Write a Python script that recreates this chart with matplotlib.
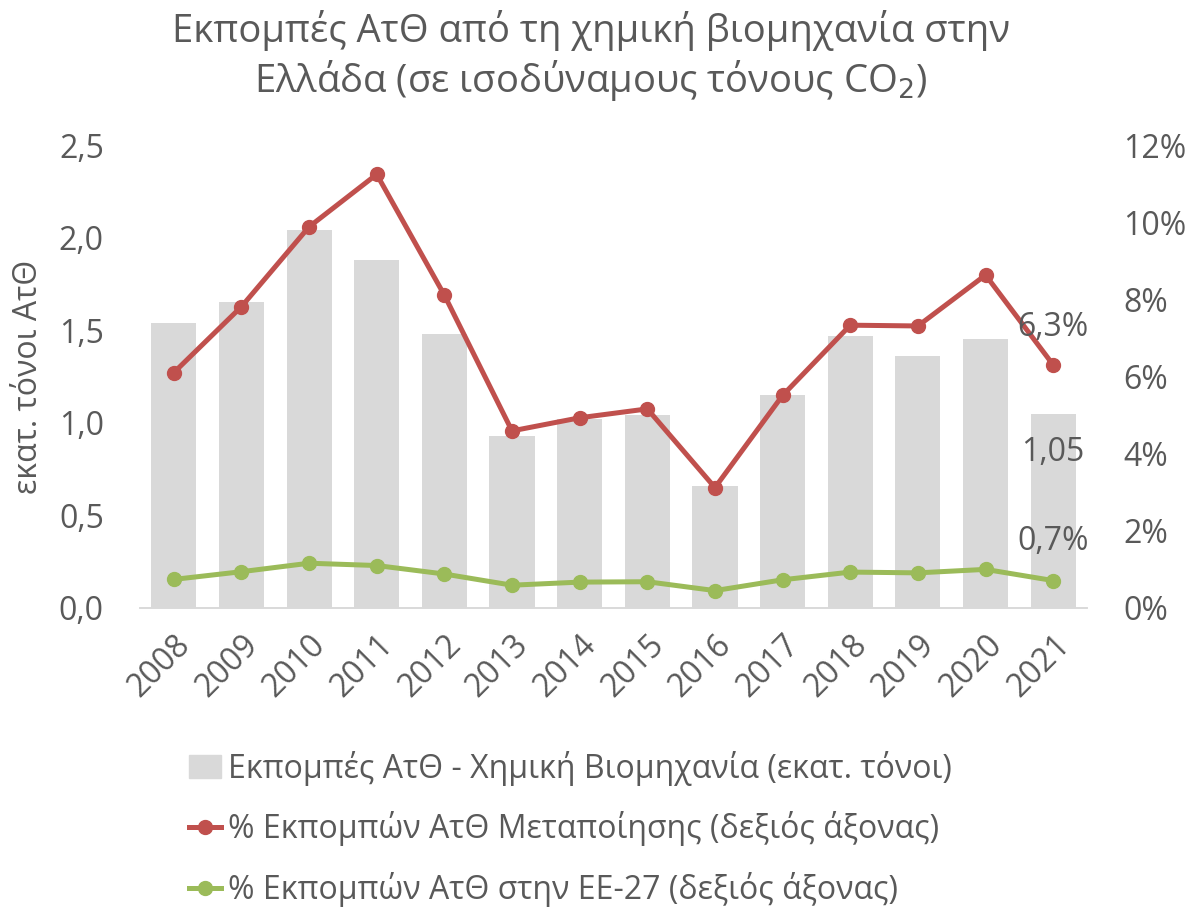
import matplotlib
matplotlib.use("Agg")
import matplotlib.pyplot as plt
from matplotlib.lines import Line2D
from matplotlib.patches import Patch
from matplotlib.ticker import FuncFormatter

plt.rcParams['font.family'] = ['Open Sans', 'DejaVu Sans']

# data
years = ['2008', '2009', '2010', '2011', '2012', '2013', '2014',
         '2015', '2016', '2017', '2018', '2019', '2020', '2021']
emissions = [1.54, 1.65, 2.04, 1.88, 1.48, 0.93, 1.02,
             1.04, 0.66, 1.15, 1.47, 1.36, 1.45, 1.05]
share_manuf = [6.10, 7.81, 9.88, 11.24, 8.11, 4.59, 4.93,
               5.16, 3.12, 5.51, 7.33, 7.31, 8.63, 6.3]
share_eu = [0.74, 0.94, 1.16, 1.10, 0.88, 0.59, 0.67,
            0.68, 0.45, 0.73, 0.93, 0.91, 1.00, 0.71]

legend_labels = ['Εκπομπές ΑτΘ - Χημική Βιομηχανία (εκατ. τόνοι)',
                 '% Εκπομπών ΑτΘ Μεταποίησης (δεξιός άξονας)',
                 '% Εκπομπών ΑτΘ στην ΕΕ-27 (δεξιός άξονας)']

text_col = '#595959'
bar_col = '#D9D9D9'
red = '#C0504D'
green = '#9BBB59'

fig = plt.figure(figsize=(11.91, 9.07), dpi=100)
ax = fig.add_axes([0.1175, 0.3297, 0.7952, 0.5104])
ax2 = ax.twinx()

x = list(range(len(years)))
ax.bar(x, emissions, width=0.667, color=bar_col, zorder=1)
ax.set_xlim(-0.5, len(years) - 0.5)
ax.set_ylim(0, 2.5)
ax.set_yticks([0, 0.5, 1.0, 1.5, 2.0, 2.5])
ax.yaxis.set_major_formatter(FuncFormatter(lambda v, p: f'{v:.1f}'.replace('.', ',')))
ax.set_xticks(x)
ax.set_xticklabels(years, rotation=45, ha='right', rotation_mode='anchor')
ax.tick_params(axis='both', length=0, labelsize=23, colors=text_col)
ax.tick_params(axis='y', pad=26)
ax.tick_params(axis='x', pad=15)
ax.set_ylabel('εκατ. τόνοι ΑτΘ', fontsize=23, color=text_col, labelpad=10)

ax2.plot(x, share_manuf, color=red, lw=3.6, marker='o', ms=10, zorder=3)
ax2.plot(x, share_eu, color=green, lw=3.6, marker='o', ms=10, zorder=3)
ax2.set_ylim(0, 12)
ax2.set_yticks([0, 2, 4, 6, 8, 10, 12])
ax2.yaxis.set_major_formatter(FuncFormatter(lambda v, p: f'{v:.0f}%'))
ax2.tick_params(axis='y', length=0, labelsize=23, colors=text_col, pad=26)

for a in (ax, ax2):
    for s in ('top', 'left', 'right'):
        a.spines[s].set_visible(False)
    a.spines['bottom'].set_color(bar_col)
    a.spines['bottom'].set_linewidth(1.2)

# data labels for the last year
last = len(years) - 1
ax2.annotate(f'{share_manuf[last]:.1f}%'.replace('.', ','), (last, share_manuf[last]),
             xytext=(0, 27), textcoords='offset points', ha='center', va='center',
             fontsize=23, color=text_col)
ax.annotate(f'{emissions[last]:.2f}'.replace('.', ','), (last, emissions[last]),
            xytext=(0, -28), textcoords='offset points', ha='center', va='center',
            fontsize=23, color=text_col)
ax2.annotate(f'{share_eu[last]:.1f}%'.replace('.', ','), (last, share_eu[last]),
             xytext=(0, 28), textcoords='offset points', ha='center', va='center',
             fontsize=23, color=text_col)

fig.text(0.496, 0.966, 'Εκπομπές ΑτΘ από τη χημική βιομηχανία στην', ha='center', va='center',
         fontsize=27.5, color=text_col)
fig.text(0.496, 0.911, 'Ελλάδα (σε ισοδύναμους τόνους CO$_2$)', ha='center', va='center',
         fontsize=27.5, color=text_col)

handles = [Patch(color=bar_col),
           Line2D([0], [0], color=red, lw=3.6, marker='o', ms=10),
           Line2D([0], [0], color=green, lw=3.6, marker='o', ms=10)]
fig.legend(handles, legend_labels, loc='upper left', bbox_to_anchor=(0.1455, 0.19),
           frameon=False, fontsize=23, labelcolor=text_col, handlelength=1.0,
           handletextpad=0.2, labelspacing=0.8, borderpad=0)

fig.savefig('out.png', dpi=100)
